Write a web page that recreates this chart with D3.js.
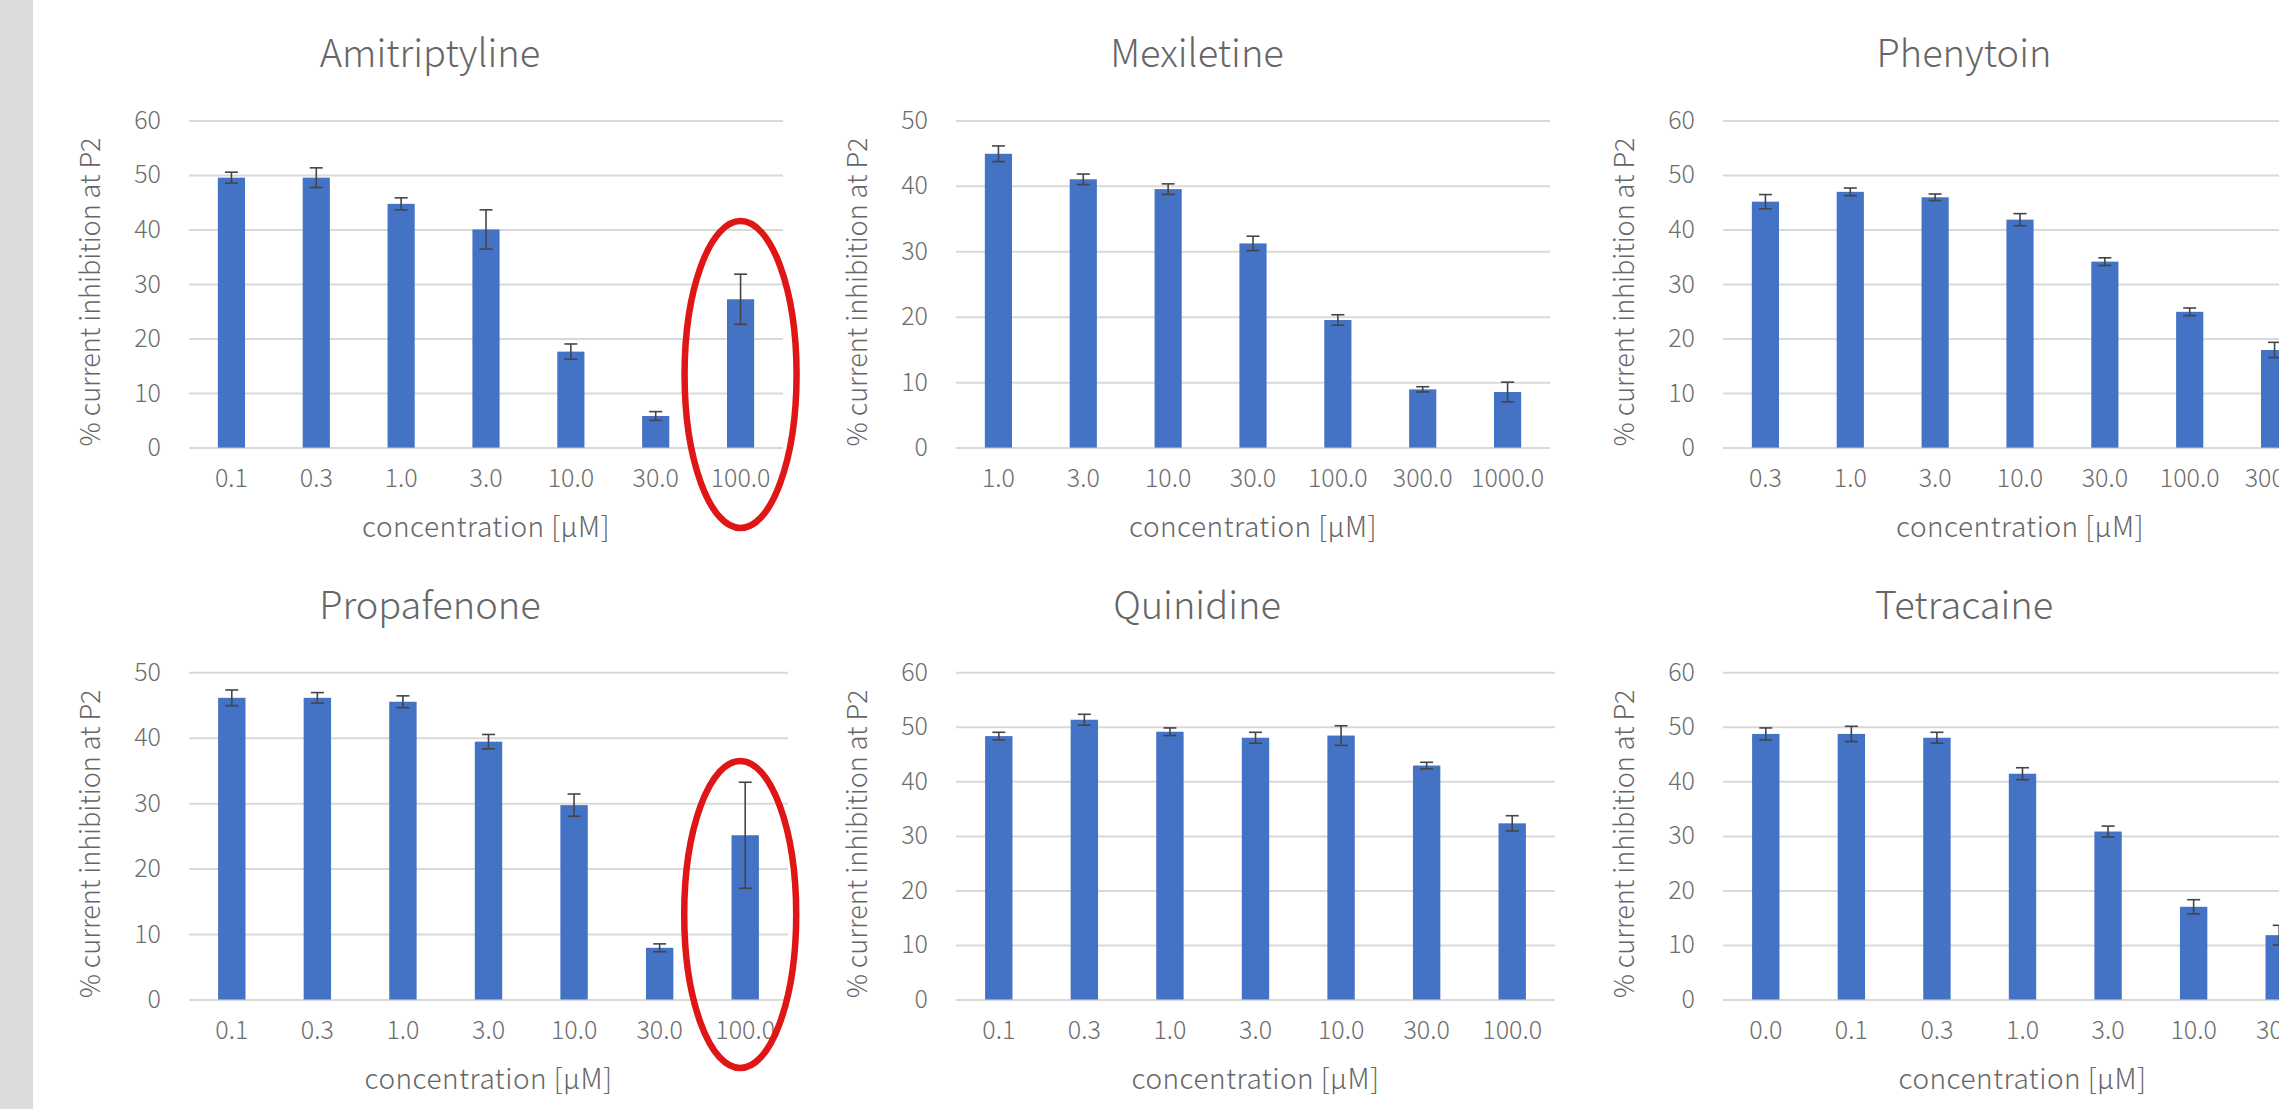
<!DOCTYPE html>
<html><head><meta charset="utf-8">
<script src="https://cdn.jsdelivr.net/npm/d3@7"></script>
<style>
body{margin:0;background:#fff;overflow:hidden}
svg{display:block}
text{font-family:"Noto Sans CJK JP","Noto Sans",sans-serif;font-weight:300}
</style>
</head><body>
<svg id="c" width="2279" height="1109"></svg>
<script>
// ---------- data ----------
const chartTitles = ["Amitriptyline","Mexiletine","Phenytoin","Propafenone","Quinidine","Tetracaine"];
const yMaxima = [60, 50, 60, 50, 60, 60];
const yTickStep = 10;

const amitriptylineConc = ["0.1","0.3","1.0","3.0","10.0","30.0","100.0"];
const amitriptylineMean = [49.5, 49.5, 44.7, 40.0, 17.6, 5.8, 27.2];
const amitriptylineErr  = [1.0, 1.8, 1.1, 3.6, 1.4, 0.8, 4.6];

const mexiletineConc = ["1.0","3.0","10.0","30.0","100.0","300.0","1000.0"];
const mexiletineMean = [44.9, 41.0, 39.5, 31.2, 19.5, 8.9, 8.5];
const mexiletineErr  = [1.2, 0.8, 0.8, 1.1, 0.8, 0.4, 1.5];

const phenytoinConc = ["0.3","1.0","3.0","10.0","30.0","100.0","300.0"];
const phenytoinMean = [45.1, 46.9, 45.9, 41.8, 34.1, 24.9, 17.9];
const phenytoinErr  = [1.3, 0.7, 0.6, 1.1, 0.7, 0.7, 1.4];

const propafenoneConc = ["0.1","0.3","1.0","3.0","10.0","30.0","100.0"];
const propafenoneMean = [46.1, 46.1, 45.5, 39.4, 29.7, 7.9, 25.1];
const propafenoneErr  = [1.2, 0.8, 0.9, 1.1, 1.7, 0.6, 8.1];

const quinidineConc = ["0.1","0.3","1.0","3.0","10.0","30.0","100.0"];
const quinidineMean = [48.3, 51.3, 49.1, 48.0, 48.4, 42.9, 32.3];
const quinidineErr  = [0.7, 1.0, 0.7, 1.0, 1.8, 0.6, 1.4];

const tetracaineConc = ["0.0","0.1","0.3","1.0","3.0","10.0","30.0"];
const tetracaineMean = [48.7, 48.7, 48.0, 41.4, 30.8, 17.0, 11.8];
const tetracaineErr  = [1.1, 1.4, 1.0, 1.1, 1.0, 1.3, 1.8];

const yAxisTitle = "% current inhibition  at P2";
const xAxisTitle = "concentration [μM]";

// highlighted categories (red ellipses)
const highlightCharts = ["Amitriptyline", "Propafenone"];
const highlightCategory = "100.0";

// ---------- layout / style ----------
const W = 2279, H = 1109;
const colLeft = [189, 956, 1723];
const rowTop = [120.4, 672.3];
const rowPlotW = [594, 599];
const plotH = 327.2;
const barColor = "#4472C4";
const gridColor = "#d9d9d9";
const textColor = "#666666";
const tickColor = "#6e6e6e";
const ellipseShift = [-73, -85];
const FONT = '"Noto Sans CJK JP","Noto Sans",sans-serif';

const conc = [amitriptylineConc, mexiletineConc, phenytoinConc, propafenoneConc, quinidineConc, tetracaineConc];
const means = [amitriptylineMean, mexiletineMean, phenytoinMean, propafenoneMean, quinidineMean, tetracaineMean];
const errs = [amitriptylineErr, mexiletineErr, phenytoinErr, propafenoneErr, quinidineErr, tetracaineErr];

const svg = d3.select("#c");
svg.append("rect").attr("x",0).attr("y",0).attr("width",W).attr("height",H).attr("fill","#fff");
svg.append("rect").attr("x",0).attr("y",0).attr("width",33).attr("height",H).attr("fill","#dcdcdc");

chartTitles.forEach((title, i) => {
  const row = Math.floor(i / 3), col = i % 3;
  const left = colLeft[col], top = rowTop[row], pw = rowPlotW[row];
  const data = conc[i].map((c, k) => ({c, v: means[i][k], e: errs[i][k]}));

  const x = d3.scaleBand().domain(conc[i]).range([left, left + pw]).paddingInner(0.68).paddingOuter(0.34);
  const y = d3.scaleLinear().domain([0, yMaxima[i]]).range([top + plotH, top]);
  const g = svg.append("g");

  // gridlines + y tick labels
  const ticks = d3.range(0, yMaxima[i] + 0.001, yTickStep);
  const yAxis = d3.axisLeft(y).tickValues(ticks).tickSize(-pw).tickPadding(28).tickFormat(d3.format("d"));
  const ya = g.append("g").attr("transform", `translate(${left},0)`).call(yAxis);
  ya.select(".domain").remove();
  ya.selectAll(".tick line").attr("stroke", gridColor).attr("stroke-width", 2);
  ya.selectAll(".tick text").attr("fill", tickColor).attr("font-size", 25)
    .attr("font-family", FONT).attr("font-weight", 300);

  // bars
  g.selectAll("rect.bar").data(data).join("rect").attr("class","bar")
    .attr("x", d => x(d.c)).attr("width", x.bandwidth())
    .attr("y", d => y(d.v)).attr("height", d => y(0) - y(d.v))
    .attr("fill", barColor);

  // error bars
  const eb = g.selectAll("g.err").data(data).join("g").attr("class","err")
    .attr("stroke", "#454545").attr("stroke-width", 1.6);
  const cx = d => x(d.c) + x.bandwidth() / 2;
  eb.append("line").attr("x1", cx).attr("x2", cx).attr("y1", d => y(d.v + d.e)).attr("y2", d => y(d.v - d.e));
  eb.append("line").attr("x1", d => cx(d) - 6.5).attr("x2", d => cx(d) + 6.5).attr("y1", d => y(d.v + d.e)).attr("y2", d => y(d.v + d.e));
  eb.append("line").attr("x1", d => cx(d) - 6.5).attr("x2", d => cx(d) + 6.5).attr("y1", d => y(d.v - d.e)).attr("y2", d => y(d.v - d.e));

  // x axis labels
  const xAxis = d3.axisBottom(x).tickSize(0).tickPadding(0);
  const xa = g.append("g").attr("transform", `translate(0,${y(0)})`).call(xAxis);
  xa.select(".domain").remove();
  xa.selectAll(".tick text").attr("fill", tickColor).attr("font-size", 25).attr("dy", null).attr("y", 39)
    .attr("font-family", FONT).attr("font-weight", 300);

  // titles
  g.append("text").attr("x", left + 241).attr("y", top - 53).attr("text-anchor","middle")
    .attr("font-size", 38).attr("fill", textColor).text(title);
  g.append("text").attr("x", left + pw / 2).attr("y", y(0) + 89).attr("text-anchor","middle")
    .attr("font-size", 28).attr("letter-spacing", 0.5).attr("fill", textColor).text(xAxisTitle);
  g.append("text").attr("transform", `translate(${left - 89},${top + plotH / 2 + 8}) rotate(-90)`)
    .attr("text-anchor","middle").attr("font-size", 27).attr("fill", textColor).text(yAxisTitle);

  // highlight ellipse
  const hi = highlightCharts.indexOf(title);
  if (hi >= 0) {
    svg.append("ellipse")
      .attr("cx", x(highlightCategory) + x.bandwidth() / 2 - (row === 1 ? 5 : 0))
      .attr("cy", y(0) + ellipseShift[hi])
      .attr("rx", 56).attr("ry", 153.5)
      .attr("fill", "none").attr("stroke", "#e01515").attr("stroke-width", 6.5);
  }
});
</script>
</body></html>
